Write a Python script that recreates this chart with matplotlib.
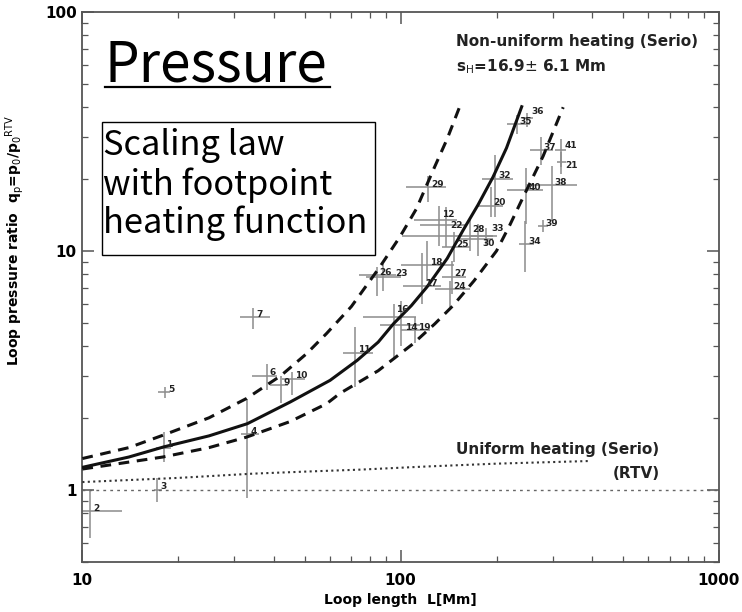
import matplotlib
matplotlib.use("Agg")
import matplotlib.pyplot as plt
from matplotlib.lines import Line2D
from matplotlib.patches import Rectangle
from matplotlib.ticker import NullFormatter, FixedLocator, FixedFormatter
import numpy as np

# model curves (loop length L [Mm], pressure ratio q)
solid_L = [10, 14, 18, 25, 33, 45, 60, 73, 85, 95, 108, 121, 140, 157, 175, 195, 215, 240]
solid_q = [1.24, 1.37, 1.51, 1.68, 1.89, 2.33, 2.87, 3.48, 4.15, 4.96, 5.9, 7.07,
           9.3, 12.2, 15.6, 20.4, 27.0, 40.2]
upper_L = [10, 14, 17.9, 25, 32.8, 42, 50.6, 58.5, 70, 86, 99.4, 112, 126.5, 140, 153]
upper_q = [1.35, 1.50, 1.69, 2.0, 2.41, 3.0, 3.71, 4.51, 5.85, 8.57, 11.45, 15.0,
           21.8, 29.5, 40.0]
lower_L = [10, 17.9, 25, 32.8, 45, 58.5, 64.4, 85, 109.5, 128, 146, 170, 200, 220,
           242.5, 280, 324]
lower_q = [1.22, 1.37, 1.50, 1.66, 1.93, 2.29, 2.53, 3.15, 4.09, 4.95, 5.9, 7.5,
           10.0, 12.8, 16.8, 24.9, 40.0]
unif_L = [10, 20, 34.4, 50, 74.5, 120, 200, 300, 390]
unif_q = [1.076, 1.12, 1.167, 1.19, 1.213, 1.25, 1.285, 1.305, 1.318]
rtv_L = [10, 1000]
rtv_q = [1.0, 1.0]

# observed loops
labels = ["2", "3", "1", "5", "4", "7", "6", "9", "10", "11", "16", "14", "19",
          "26", "23", "17", "18", "27", "24", "29", "12", "22", "25", "28", "30",
          "33", "20", "32", "35", "36", "37", "41", "21", "38", "40", "34", "39"]
L = [10.6, 17.2, 18.0, 18.2, 33.0, 34.4, 38.0, 42.0, 45.5, 72.0, 95.0, 100.0, 111,
     84, 88, 117, 121, 144.5, 143, 122, 132, 139, 147, 165, 175,
     185, 192, 198, 232, 250, 275, 318, 320, 298, 248, 246, 280]
q = [0.81, 1.0, 1.5, 2.56, 1.71, 5.29, 3.0, 2.75, 2.92, 3.75, 5.3, 4.9, 4.65,
     7.9, 7.8, 7.1, 8.75, 7.8, 6.9, 18.5, 13.5, 12.9, 10.4, 11.5, 11.2,
     11.6, 15.5, 20.1, 34.0, 36.0, 26.4, 26.5, 23.5, 18.9, 18.0, 10.7, 12.7]
L_lo = [8.5, 16.8, 17.0, 17.3, 31.5, 31.3, 34.0, 38.8, 42.5, 66.0, 76.0, 86, 100,
        74, 78, 102, 100, 135, 128, 104, 110, 115, 135, 101, 150,
        165, 175, 180, 215, 240, 255, 305, 310, 248, 215, 235, 270]
L_hi = [13.3, 17.8, 19.0, 18.9, 36.0, 38.8, 40.8, 44.4, 50.0, 82.0, 112.0, 115, 124,
        97, 100, 134, 147, 160, 165, 139, 150, 160, 165, 195, 195,
        200, 210, 225, 255, 260, 300, 330, 330, 357, 280, 262, 290]
q_lo = [0.63, 0.89, 1.31, 2.41, 0.92, 4.73, 2.61, 2.3, 2.5, 2.7, 3.6, 4.0, 4.1,
        6.5, 6.8, 5.98, 7.5, 6.6, 5.8, 16.1, 10.5, 10.4, 9.0, 10.0, 9.5,
        10.5, 13.9, 13.9, 31.0, 33.0, 23.0, 22.5, 21.0, 13.4, 13.0, 8.17, 12.0]
q_hi = [1.0, 1.12, 1.74, 2.69, 2.40, 5.74, 3.35, 3.0, 3.1, 4.8, 6.0, 6.2, 5.3,
        8.6, 8.8, 9.8, 11.0, 9.1, 7.5, 20.6, 15.5, 15.3, 12.0, 13.5, 13.0,
        12.5, 18.6, 25.2, 37.0, 38.0, 30.0, 29.5, 26.0, 22.8, 22.2, 13.4, 13.5]

# label nudges (points) where labels crowd
nudge = {"23": (9, 2), "16": (2, 5), "14": (3, -2), "28": (2, 5),
         "30": (3, -3), "33": (4, 5), "12": (2, 4), "22": (3, -1),
         "36": (3, 5), "41": (3, 3), "21": (3, -2)}

fig = plt.figure(figsize=(7.42, 6.12), dpi=100)
ax = fig.add_axes([0.111, 0.0825, 0.858, 0.8975])
ax.set_xscale("log")
ax.set_yscale("log")
ax.set_xlim(10, 1000)
ax.set_ylim(0.5, 100)

L_arr, q_arr = np.array(L), np.array(q)
ax.errorbar(L_arr, q_arr,
            xerr=[L_arr - np.array(L_lo), np.array(L_hi) - L_arr],
            yerr=[q_arr - np.array(q_lo), np.array(q_hi) - q_arr],
            fmt="none", ecolor="#8c8c8c", elinewidth=1.1, capsize=0, zorder=2)
for lab, x, y in zip(labels, L, q):
    ax.annotate(lab, (x, y), xytext=nudge.get(lab, (2, 2)), textcoords="offset points",
                fontsize=6.5, fontweight="bold", color="#222222",
                ha="left", va="center", zorder=4)

ax.plot(solid_L, solid_q, color="#111111", lw=2.2, zorder=3)
ax.plot(upper_L, upper_q, color="#111111", lw=2.2, ls=(0, (3.5, 2.5)), zorder=3)
ax.plot(lower_L, lower_q, color="#111111", lw=2.2, ls=(0, (3.5, 2.5)), zorder=3)
ax.plot(unif_L, unif_q, color="#333333", lw=1.5, ls=(0, (1, 1.6)), zorder=3)
ax.plot(rtv_L, rtv_q, color="#666666", lw=1.0, ls=(0, (2, 3)), zorder=3)

ax.xaxis.set_major_locator(FixedLocator([10, 100, 1000]))
ax.xaxis.set_major_formatter(FixedFormatter(["10", "100", "1000"]))
ax.yaxis.set_major_locator(FixedLocator([1, 10, 100]))
ax.yaxis.set_major_formatter(FixedFormatter(["1", "10", "100"]))
ax.xaxis.set_minor_formatter(NullFormatter())
ax.yaxis.set_minor_formatter(NullFormatter())
ax.tick_params(which="both", direction="in", top=True, right=True, color="#555555")
ax.tick_params(which="major", length=8.5, width=1.1, labelsize=11, pad=8)
ax.tick_params(axis="y", which="major", pad=4)
ax.tick_params(which="minor", length=4.5, width=0.9)
for t in ax.get_xticklabels() + ax.get_yticklabels():
    t.set_fontweight("bold")
for s in ax.spines.values():
    s.set_color("#555555")
    s.set_linewidth(1.3)

ax.set_xlabel("Loop length  L[Mm]", fontsize=10, fontweight="bold", labelpad=4)
ax.set_ylabel(r"Loop pressure ratio  q$_{\rm p}$=p$_0$/p$_0$$^{\rm RTV}$",
              fontsize=10, fontweight="bold")
ax.yaxis.set_label_coords(-0.088, 0.585)

txt = dict(fontsize=11, fontweight="bold", color="#222222", family="DejaVu Sans")
fig.text(0.615, 0.932, "Non-uniform heating (Serio)", ha="left", va="center", **txt)
fig.text(0.615, 0.891, r"s$_{\rm H}$=16.9$\pm$ 6.1 Mm", ha="left", va="center", **txt)
fig.text(0.752, 0.265, "Uniform heating (Serio)", ha="center", va="center", **txt)
fig.text(0.889, 0.227, "(RTV)", ha="right", va="center", **txt)

jp = ["Noto Sans CJK JP", "DejaVu Sans"]
fig.text(0.1415, 0.8665, "Pressure", fontsize=39.5, family=jp, ha="left", va="baseline")
fig.add_artist(Line2D([0.1415, 0.4448], [0.8583, 0.8583], color="black", lw=1.6,
                      transform=fig.transFigure))
fig.add_artist(Rectangle((0.1379, 0.5833), 0.3675, 0.2169, transform=fig.transFigure,
                         facecolor="white", edgecolor="black", lw=1.0, zorder=5))
for yy, line in zip([0.7467, 0.6814, 0.6193],
                    ["Scaling law", "with footpoint", "heating function"]):
    fig.text(0.1388, yy, line, fontsize=24.8, family=jp, ha="left", va="baseline", zorder=6)

fig.savefig("out.png", dpi=100)
